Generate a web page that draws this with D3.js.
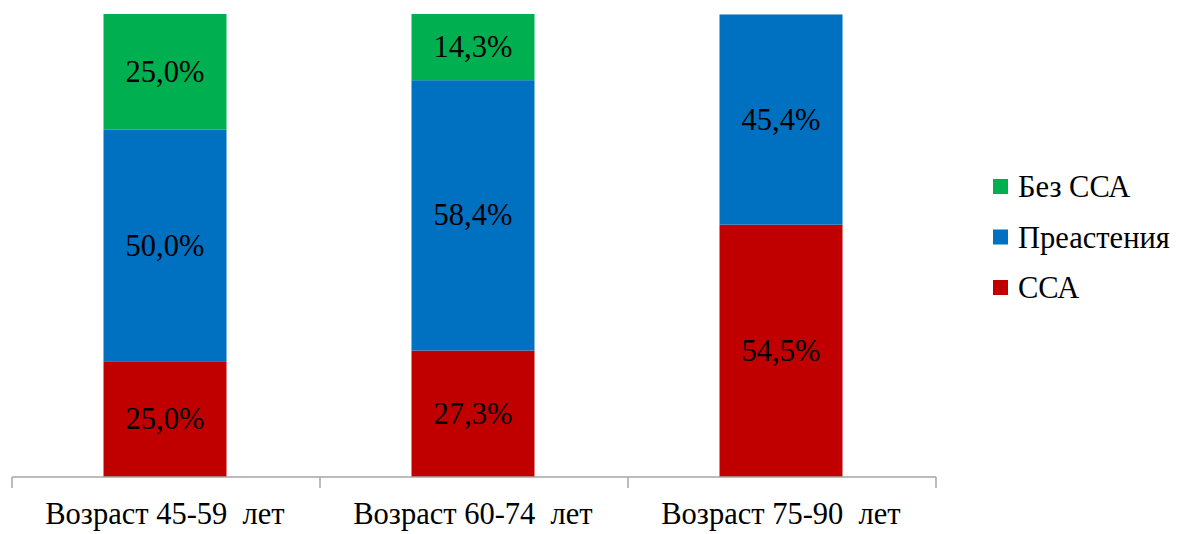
<!DOCTYPE html>
<html>
<head>
<meta charset="utf-8">
<script src="https://cdn.jsdelivr.net/npm/d3@7"></script>
</head>
<body style="margin:0">
<svg id="chart" width="1189" height="534"></svg>
<script>
// Age groups along the x axis
const categories = ["Возраст 45-59 лет", "Возраст 60-74 лет", "Возраст 75-90 лет"];
// Series, stacked bottom to top
const seriesNames = ["ССА", "Преастения", "Без ССА"];
const ssa = [25.0, 27.3, 54.5];
const preasthenia = [50.0, 58.4, 45.4];
const noSsa = [25.0, 14.3, 0];
const colors = ["#C00000", "#0070C0", "#00B050"];

const fontPx = 30.5;

const svg = d3.select("#chart");
const plotLeft = 12, plotRight = 936, plotTop = 14, plotBottom = 477;

const rows = categories.map((c, i) => ({
  cat: c,
  "ССА": ssa[i],
  "Преастения": preasthenia[i],
  "Без ССА": noSsa[i]
}));

const x = d3.scaleBand().domain(categories).range([plotLeft, plotRight]).paddingInner(0).paddingOuter(0);
const y = d3.scaleLinear().domain([0, 100]).range([plotBottom, plotTop]);
const barW = 123;

const stacked = d3.stack().keys(seriesNames)(rows);
const fmt = v => v.toFixed(1).replace(".", ",") + "%";

// Stacked bar segments
const segs = stacked.flatMap((s, k) => s.filter(p => p[1] - p[0] > 0).map(p => ({ p, k })));
svg.selectAll("rect.seg").data(segs).join("rect")
  .attr("class", "seg")
  .attr("x", d => x(d.p.data.cat) + x.bandwidth() / 2 - barW / 2 - 1)
  .attr("width", barW)
  .attr("y", d => y(d.p[1]))
  .attr("height", d => y(d.p[0]) - y(d.p[1]))
  .attr("fill", d => colors[d.k]);

// Category baseline and boundary ticks from the band scale
svg.append("line")
  .attr("x1", x.range()[0]).attr("x2", x.range()[1])
  .attr("y1", y(0)).attr("y2", y(0))
  .attr("stroke", "#a6a6a6").attr("stroke-width", 1.5);

const bounds = [plotLeft, ...categories.map(c => x(c) + x.bandwidth())];
svg.selectAll("line.tick").data(bounds).join("line")
  .attr("class", "tick")
  .attr("x1", d => d).attr("x2", d => d)
  .attr("y1", y(0)).attr("y2", y(0) + 11)
  .attr("stroke", "#a6a6a6").attr("stroke-width", 1.5);

// Segment value labels
svg.selectAll("text.val").data(segs).join("text")
  .attr("class", "val")
  .attr("x", d => x(d.p.data.cat) + x.bandwidth() / 2 - 1)
  .attr("y", d => (y(d.p[0]) + y(d.p[1])) / 2 + 10)
  .attr("font-size", fontPx)
  .attr("font-family", d => `'Liberation Serif'`)
  .attr("text-anchor", "middle")
  .text(d => fmt(d.p[1] - d.p[0]));

// Category labels
svg.selectAll("text.cat").data(categories).join("text")
  .attr("class", "cat")
  .attr("x", d => x(d) + x.bandwidth() / 2 - 1)
  .attr("y", 524)
  .attr("font-size", fontPx)
  .attr("font-family", d => `'Liberation Serif'`)
  .attr("text-anchor", "middle")
  .attr("xml:space", "preserve")
  .text(d => d.replace(" лет", "  лет"));

// Legend, top to bottom in reverse stack order
const legendItems = seriesNames.map((n, i) => ({ name: n, color: colors[i] })).reverse();
svg.selectAll("rect.key").data(legendItems).join("rect")
  .attr("class", "key")
  .attr("x", 993).attr("y", (d, i) => 179 + i * 50.5)
  .attr("width", 15).attr("height", 15)
  .attr("fill", d => d.color);
svg.selectAll("text.key").data(legendItems).join("text")
  .attr("class", "key")
  .attr("x", 1018).attr("y", (d, i) => 197 + i * 50.5)
  .attr("font-size", fontPx)
  .attr("font-family", d => `'Liberation Serif'`)
  .text(d => d.name);
</script>
</body>
</html>
